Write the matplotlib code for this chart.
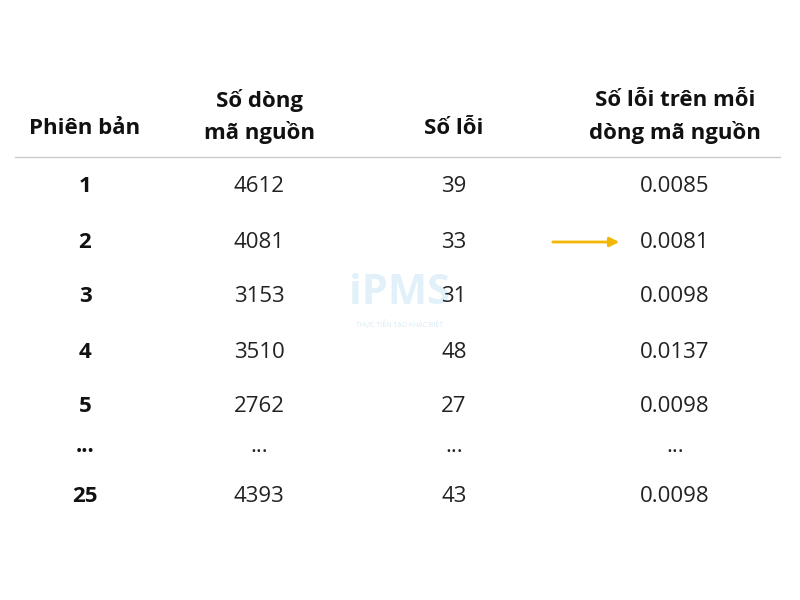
import matplotlib
matplotlib.use("Agg")
import matplotlib.pyplot as plt

plt.rcParams['font.family'] = ['Open Sans', 'DejaVu Sans']

headers = ["Phiên bản", "Số dòng\nmã nguồn", "Số lỗi", "Số lỗi trên mỗi\ndòng mã nguồn"]
versions = ["1", "2", "3", "4", "5", "...", "25"]
lines = ["4612", "4081", "3153", "3510", "2762", "...", "4393"]
bugs = ["39", "33", "31", "48", "27", "...", "43"]
rates = ["0.0085", "0.0081", "0.0098", "0.0137", "0.0098", "...", "0.0098"]

W, H = 800, 600
fig = plt.figure(figsize=(8, 6), dpi=100)
ax = fig.add_axes([0, 0, 1, 1])
ax.set_xlim(0, W); ax.set_ylim(H, 0); ax.axis("off")

xs = [85, 259, 454, 675]
row_y = [187, 242, 297, 352, 407, 452, 497]
fs = 16

ax.text(85, 128, headers[0], ha="center", va="center", fontsize=fs, fontweight="bold", color="#111")
for x, h in zip(xs[1:], headers[1:]):
    y = 128 if "\n" not in h else 117
    ax.text(x, y, h, ha="center", va="center", fontsize=fs, fontweight="bold", color="#111", linespacing=1.5)
ax.plot([15, 780], [157, 157], color="#cccccc", lw=1)

for i, y in enumerate(row_y):
    dy = -6 if versions[i] == "..." else 0
    ax.text(xs[0], y + dy, versions[i], ha="center", va="center", fontsize=fs, fontweight="bold", color="#111")
    ax.text(xs[1], y + dy, lines[i], ha="center", va="center", fontsize=fs, color="#222")
    ax.text(xs[2], y + dy, bugs[i], ha="center", va="center", fontsize=fs, color="#222", zorder=3)
    ax.text(xs[3], y + dy, rates[i], ha="center", va="center", fontsize=fs, color="#222")

ax.annotate("", xy=(622, 242), xytext=(550, 242),
            arrowprops=dict(arrowstyle="-|>", color="#f2b705", lw=2, mutation_scale=14))

ax.text(400, 293, "iPMS", ha="center", va="center", fontsize=30, fontweight="bold", color="#d7ecf7", alpha=0.7, zorder=0)
ax.text(400, 324, "THỰC TIỄN TẠO KHÁC BIỆT", ha="center", va="center", fontsize=5, color="#d7ecf7", zorder=0)

fig.savefig("out.png", dpi=100)
